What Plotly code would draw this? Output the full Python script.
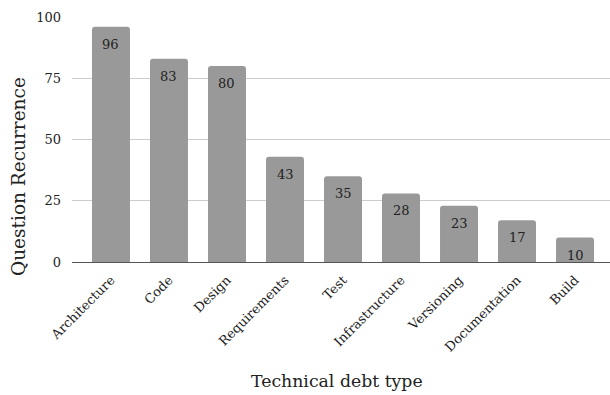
import plotly.graph_objects as go

categories = ["Architecture", "Code", "Design", "Requirements", "Test",
              "Infrastructure", "Versioning", "Documentation", "Build"]
values = [96, 83, 80, 43, 35, 28, 23, 17, 10]
y_ticks = [0, 25, 50, 75, 100]
x_title = "Technical debt type"
y_title = "Question Recurrence"

FONT = "'DejaVu Serif', Georgia, serif"
TXT = "#222222"

fig = go.Figure()
fig.add_trace(go.Bar(
    x=categories, y=values,
    marker=dict(color="#999999", line=dict(width=0)),
    width=0.655,
    hoverinfo="x+y",
))

for c, v in zip(categories, values):
    fig.add_annotation(x=c, y=v, text=str(v), showarrow=False,
                       yanchor="top", yshift=-8,
                       font=dict(family=FONT, size=13, color=TXT))

# axis titles
fig.add_annotation(xref="paper", yref="paper", x=0.4926, y=-0.4857,
                   xanchor="center", yanchor="middle", showarrow=False,
                   text=x_title, font=dict(family=FONT, size=17.3, color=TXT))
fig.add_annotation(xref="paper", yref="paper", x=-0.1004, y=0.351,
                   xanchor="center", yanchor="middle", showarrow=False,
                   textangle=-90,
                   text=y_title, font=dict(family=FONT, size=18.5, color=TXT))

fig.update_layout(
    width=610, height=395,
    margin=dict(l=72, r=0, t=17, b=133),
    paper_bgcolor="white", plot_bgcolor="white",
    showlegend=False,
    barcornerradius=3,
    font=dict(family=FONT, size=13, color=TXT),
    xaxis=dict(
        range=[-0.672, 8.603],
        tickangle=-45,
        tickfont=dict(family=FONT, size=13, color=TXT),
        showgrid=False, ticks="", ticklabelstandoff=7,
    ),
    yaxis=dict(
        range=[0, 100],
        tickvals=y_ticks,
        tickfont=dict(family=FONT, size=13, color=TXT),
        showgrid=True, gridcolor="#cccccc", gridwidth=1,
        zeroline=True, zerolinecolor="#555555", zerolinewidth=1,
        ticks="", ticklabelstandoff=10,
    ),
)

fig.write_html("out.html")
